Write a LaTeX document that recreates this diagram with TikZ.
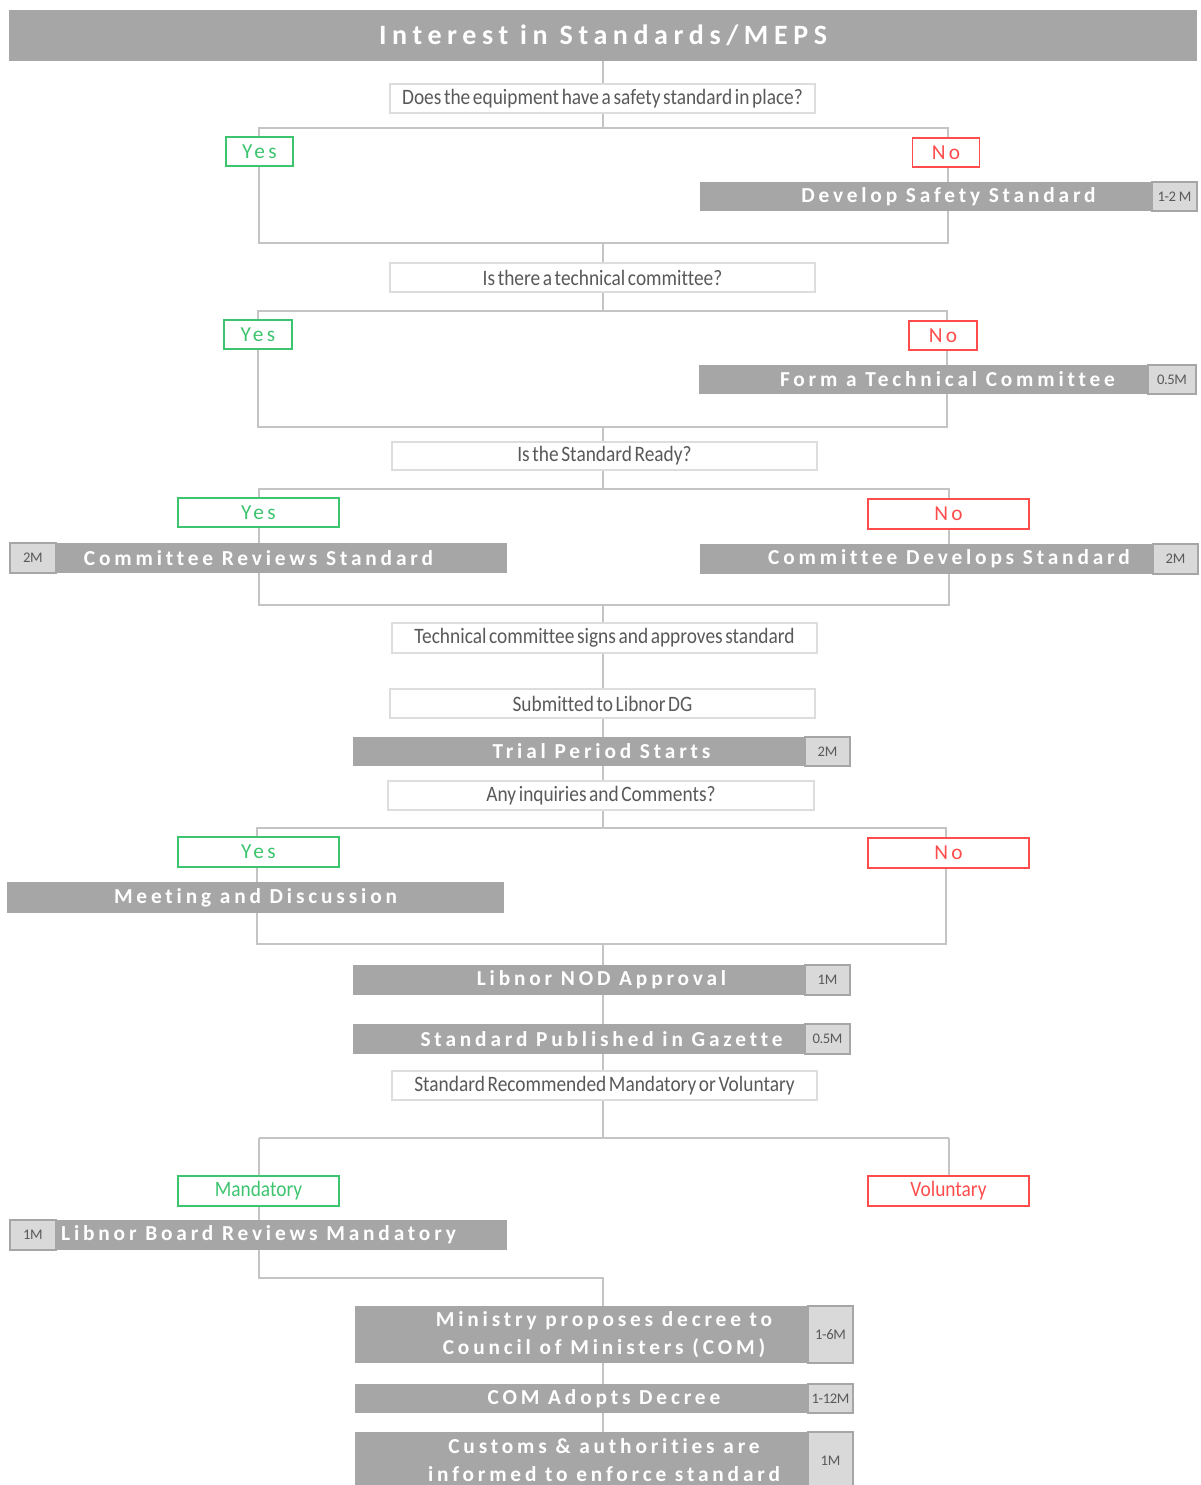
\documentclass[tikz,border=0pt]{standalone}
\usepackage{fontspec}
\setmainfont{Carlito}
\newfontfamily\barfont{Carlito}[LetterSpace=18,Ligatures=NoCommon]
\newfontfamily\titlefont{Carlito}[LetterSpace=20,Ligatures=NoCommon]
\newfontfamily\ynfont{Carlito}[LetterSpace=16,Ligatures=NoCommon]
\newfontfamily\qfont{Carlito}[FakeStretch=0.88,WordSpace=0.6,Ligatures=NoCommon]
\newfontfamily\tagfont{Carlito}[LetterSpace=-3,Ligatures=NoCommon]
\pgfdeclarelayer{bg}
\pgfsetlayers{bg,main}
\definecolor{barg}{HTML}{A6A6A6}
\definecolor{tagg}{HTML}{D9D9D9}
\definecolor{txtg}{HTML}{595959}
\definecolor{lineg}{HTML}{C4C4C4}
\definecolor{qline}{HTML}{DDDDDD}
\definecolor{yesg}{HTML}{3CC46E}
\definecolor{nor}{HTML}{FF4D4D}
\tikzset{
  sz/.style 2 args={minimum width=#1*0.75pt, minimum height=#2*0.75pt},
  bar/.style={fill=barg, text=white, inner sep=0pt, align=center,
    font=\barfont\bfseries\fontsize{16}{21}\selectfont},
  titlebar/.style={bar, font=\titlefont\bfseries\fontsize{21}{25}\selectfont},
  tagbox/.style={fill=tagg, draw=barg, line width=1pt, text=txtg, inner sep=0pt,
    font=\tagfont\fontsize{11}{13}\selectfont},
  qbox/.style={fill=white, draw=qline, line width=1pt, text=txtg, inner sep=0pt,
    font=\qfont\fontsize{16.5}{18}\selectfont},
  yesbox/.style={fill=white, draw=yesg, line width=1.2pt, text=yesg, inner sep=0pt,
    font=\ynfont\fontsize{16}{18}\selectfont},
  nobox/.style={yesbox, draw=nor, text=nor},
  mvyes/.style={yesbox, font=\qfont\fontsize{16.5}{18}\selectfont},
  mvno/.style={nobox, font=\qfont\fontsize{16.5}{18}\selectfont},
  conn/.style={draw=lineg, line width=1.5pt}
}
\begin{document}
\begin{tikzpicture}[x=0.75pt, y=-0.75pt]
\useasboundingbox (0,0) rectangle (1201,1485);
\clip (0,0) rectangle (1201,1485);
\coordinate (tk) at (603,0);
% title
\node[titlebar, sz={1188}{51}] (title) at (603,35.5) {Interest in Standards/MEPS};
% block 1
\node[qbox, sz={425}{29}] (q1) at (602.5,98.5) {Does the equipment have a safety standard in place?};
\node[yesbox, sz={67}{29}] (yes1) at (259.5,151.5) {Yes};
\node[nobox, sz={67}{29}] (no1) at (946,152.5) {No};
\node[bar, sz={497}{29}] (dss) at (948.5,196.5) {Develop Safety Standard};
\node[tagbox, sz={45}{29}] (dsst) at (1174.5,196.5) {1-2 M};
\coordinate (b1tl) at (259,128); \coordinate (b1tr) at (948,128);
\coordinate (b1bl) at (259,243); \coordinate (b1br) at (948,243);
% block 2
\node[qbox, sz={425}{29}] (q2) at (602.5,277.5) {Is there a technical committee?};
\node[yesbox, sz={68}{29}] (yes2) at (258,334.5) {Yes};
\node[nobox, sz={68}{29}] (no2) at (943,335.5) {No};
\node[bar, sz={497}{29}] (ftc) at (947.5,379.5) {Form a Technical Committee};
\node[tagbox, sz={48}{29}] (ftct) at (1172,379.5) {0.5M};
\coordinate (b2tl) at (258,311); \coordinate (b2tr) at (947,311);
\coordinate (b2bl) at (258,427); \coordinate (b2br) at (947,427);
% block 3
\node[qbox, sz={425}{28}] (q3) at (604.5,456) {Is the Standard Ready?};
\node[yesbox, sz={161}{29}] (yes3) at (258.5,512.5) {Yes};
\node[nobox, sz={161}{30}] (no3) at (948.5,514) {No};
\node[bar, sz={497}{30}] (crs) at (258.5,558) {Committee Reviews Standard};
\node[tagbox, sz={46}{30}] (crst) at (33,558) {2M};
\node[bar, sz={498}{30}] (cds) at (949,559) {Committee Develops Standard};
\node[tagbox, sz={45}{30}] (cdst) at (1175.5,559) {2M};
\coordinate (b3tl) at (259,489); \coordinate (b3tr) at (949,489);
\coordinate (b3bl) at (259,605); \coordinate (b3br) at (949,605);
% middle
\node[qbox, sz={425}{30}] (q4) at (604.5,638) {Technical committee signs and approves standard};
\node[qbox, sz={425}{29}] (q5) at (602.5,703.5) {Submitted to Libnor DG};
\node[bar, sz={497}{29}] (trial) at (601.5,751.5) {Trial Period Starts};
\node[tagbox, sz={45}{29}] (trialt) at (827.5,751.5) {2M};
\node[qbox, sz={426}{29}] (q6) at (601,795.5) {Any inquiries and Comments?};
% block 4
\node[yesbox, sz={161}{30}] (yes4) at (258.5,852) {Yes};
\node[nobox, sz={161}{30}] (no4) at (948.5,853) {No};
\node[bar, sz={497}{31}] (mad) at (255.5,897.5) {Meeting and Discussion};
\coordinate (b4tl) at (257,828); \coordinate (b4tr) at (946,828);
\coordinate (b4bl) at (257,944); \coordinate (b4br) at (946,944);
% approvals
\node[bar, sz={497}{30}] (nod) at (601.5,980) {Libnor NOD Approval};
\node[tagbox, sz={45}{30}] (nodt) at (827.5,980) {1M};
\node[bar, sz={497}{30}] (gaz) at (601.5,1039) {Standard Published in Gazette};
\node[tagbox, sz={45}{30}] (gazt) at (827.5,1039) {0.5M};
\node[qbox, sz={425}{29}] (q7) at (604.5,1085.5) {Standard Recommended Mandatory or Voluntary};
% block 5
\coordinate (b5l) at (259,1138); \coordinate (b5r) at (949,1138);
\node[mvyes, sz={161}{30}] (mand) at (258.5,1191) {Mandatory};
\node[mvno, sz={161}{30}] (vol) at (948.5,1191) {Voluntary};
\node[bar, sz={497}{30}] (lbr) at (258.5,1235) {Libnor Board Reviews Mandatory};
\node[tagbox, sz={46}{30}] (lbrt) at (33,1235) {1M};
\coordinate (j1) at (259,1278); \coordinate (j2) at (603,1278);
% decree
\node[bar, sz={498}{57}] (min) at (604,1334.5) {Ministry proposes decree to\\Council of Ministers (COM)};
\node[tagbox, sz={45}{57}] (mint) at (830.5,1334.5) {1-6M};
\node[bar, sz={498}{29}] (com) at (604,1398.5) {COM Adopts Decree};
\node[tagbox, sz={45}{29}] (comt) at (830.5,1398.5) {1-12M};
\node[bar, sz={498}{57}] (cus) at (604,1460.5) {Customs \& authorities are\\informed to enforce standard};
\node[tagbox, sz={45}{57}] (cust) at (830.5,1460.5) {1M};
% connectors
\begin{pgfonlayer}{bg}
\draw[conn] (tk |- title.south) -- (tk |- q1.north);
\draw[conn] (tk |- q1.south) -- (tk |- b1tl);
\draw[conn] (b1tl) -- (b1tr) -- (b1br) -- (b1bl) -- cycle;
\draw[conn] (tk |- b1bl) -- (tk |- q2.north);
\draw[conn] (tk |- q2.south) -- (tk |- b2tl);
\draw[conn] (b2tl) -- (b2tr) -- (b2br) -- (b2bl) -- cycle;
\draw[conn] (tk |- b2bl) -- (tk |- q3.north);
\draw[conn] (tk |- q3.south) -- (tk |- b3tl);
\draw[conn] (b3tl) -- (b3tr) -- (b3br) -- (b3bl) -- cycle;
\draw[conn] (tk |- b3bl) -- (tk |- q4.north);
\draw[conn] (tk |- q4.south) -- (tk |- q5.north);
\draw[conn] (tk |- q5.south) -- (tk |- trial.north);
\draw[conn] (tk |- trial.south) -- (tk |- q6.north);
\draw[conn] (tk |- q6.south) -- (tk |- b4tl);
\draw[conn] (b4tl) -- (b4tr) -- (b4br) -- (b4bl) -- cycle;
\draw[conn] (tk |- b4bl) -- (tk |- nod.north);
\draw[conn] (tk |- nod.south) -- (tk |- gaz.north);
\draw[conn] (tk |- gaz.south) -- (tk |- q7.north);
\draw[conn] (tk |- q7.south) -- (tk |- b5l);
\draw[conn] (b5l) -- (b5r);
\draw[conn] (b5r) -- (b5r |- vol.north);
\draw[conn] (b5l) -- (b5l |- mand.north);
\draw[conn] (b5l |- mand.south) -- (b5l |- lbr.north);
\draw[conn] (b5l |- lbr.south) -- (j1) -- (j2) -- (j2 |- min.north);
\draw[conn] (tk |- min.south) -- (tk |- com.north);
\draw[conn] (tk |- com.south) -- (tk |- cus.north);
\end{pgfonlayer}
\end{tikzpicture}
\end{document}
